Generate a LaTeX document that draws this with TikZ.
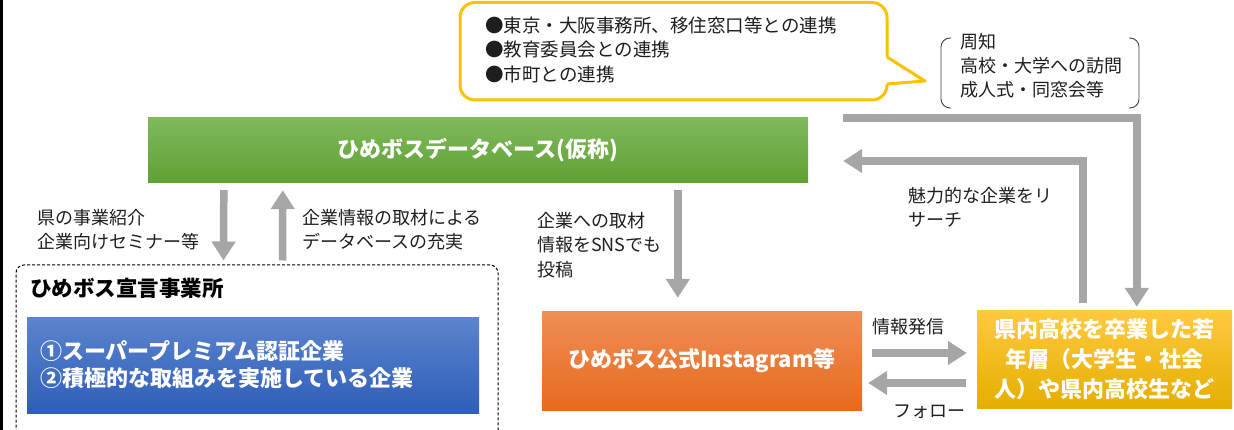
\documentclass[tikz,border=0pt]{standalone}
\usepackage{fontspec}
\setmainfont{Noto Sans CJK JP}
\usetikzlibrary{arrows.meta,calc}
\definecolor{arrgray}{RGB}{166,166,166}
\definecolor{txt}{RGB}{30,30,30}
\definecolor{callgold}{RGB}{255,192,0}
\definecolor{greentop}{RGB}{126,186,92}
\definecolor{greenbot}{RGB}{97,160,52}
\definecolor{bluetop}{RGB}{92,132,206}
\definecolor{bluebot}{RGB}{46,94,184}
\definecolor{orangetop}{RGB}{240,142,86}
\definecolor{orangebot}{RGB}{230,106,30}
\definecolor{yeltop}{RGB}{255,201,64}
\definecolor{yelbot}{RGB}{228,174,0}
\definecolor{brk}{RGB}{64,64,64}
\begin{document}
\begin{tikzpicture}[x=1pt,y=-1pt,
  lbl/.style={anchor=west, inner sep=0pt, align=left, text=txt, font=\fontsize{18}{24.5}\selectfont},
  garrow/.style={draw=arrgray, line width=7.5pt, -{Triangle[width=23pt,length=19pt]}},
  bigbox/.style={draw=none, inner sep=0pt, text=white, align=center, font=\bfseries\fontsize{22}{30}\selectfont},
]
\useasboundingbox (0,0) rectangle (1234,430);
\clip (0,0) rectangle (1234,430);

% left frame line
\draw[line width=3pt, black] (1.5,0) -- (1.5,430);

% callout
\draw[callgold, line width=3pt, fill=white, rounded corners=15pt] (460,2.5) rectangle (887,100);
\fill[white] (884,57) -- (887,57) -- (925,81) -- (887,84) -- (884,84) -- cycle;
\draw[callgold, line width=3pt, line join=round] (887,57) -- (925,81) -- (887,84);
\node[lbl, font=\fontsize{18.5}{24.5}\selectfont] (call) at (485,49.5)
  {●東京・大阪事務所、移住窓口等との連携\\●教育委員会との連携\\●市町との連携};

% bracket note
\draw[brk, line width=0.9pt, rounded corners=9pt] (951,38) -- (941,38) -- (941,108) -- (951,108);
\draw[brk, line width=0.9pt, rounded corners=9pt] (1129,38) -- (1139,38) -- (1139,108) -- (1129,108);
\node[lbl, font=\fontsize{18}{24}\selectfont] (note) at (960,66)
  {周知\\高校・大学への訪問\\成人式・同窓会等};

% database box
\node[bigbox, top color=greentop, bottom color=greenbot, minimum width=660pt, minimum height=65pt]
  (db) at (478,150.5) {ひめボスデータベース(仮称)};

% declaration (dashed) box
\node[draw=black, dash pattern=on 3pt off 2pt, line width=1pt, rounded corners=8pt,
  minimum width=482pt, minimum height=190pt, inner sep=0pt] (decl) at (257,360) {};
\node[anchor=west, inner sep=0pt, text=black, font=\bfseries\fontsize{21.5}{26}\selectfont]
  (decltitle) at (30,288) {ひめボス宣言事業所};
\node[bigbox, top color=bluetop, bottom color=bluebot, minimum width=452pt, minimum height=96pt,
  text width=426pt, align=left, font=\bfseries\fontsize{22}{27}\selectfont]
  (firms) at (253,365) {①スーパープレミアム認証企業\\②積極的な取組みを実施している企業};

% instagram box
\node[bigbox, top color=orangetop, bottom color=orangebot, minimum width=320pt, minimum height=98pt]
  (insta) at (702,361) {ひめボス公式Instagram等};

% target group box
\node[bigbox, top color=yeltop, bottom color=yelbot, minimum width=255pt, minimum height=97pt]
  (ykk) at (1104.5,359.5) {県内高校を卒業した若\\年層（大学生・社会\\人）や県内高校生など};

% arrows
\draw[garrow] ($(db.south west)+(76,7)$) -- ($(decl.north west)+(208,-4)$);
\draw[garrow] ($(decl.north west)+(267,-4)$) -- ($(db.south west)+(135,7)$);
\draw[garrow] ($(db.south west)+(530,7)$) -- ($(insta.north west)+(136,-14)$);
\draw[garrow] ($(db.north east)+(35,0)$) -| ($(ykk.north west)+(160,-4)$);
\draw[garrow] ($(ykk.north west)+(106,-8)$) |- ($(db.east)+(35,10.5)$);
\draw[garrow] ($(insta.east)+(10,-8)$) -- ($(ykk.west)+(-10,-6.5)$);
\draw[garrow] ($(ykk.west)+(-11,23.5)$) -- ($(insta.east)+(6,22)$);

% labels
\node[lbl] (l1) at (37,229.5) {県の事業紹介\\企業向けセミナー等};
\node[lbl] (l2) at (302,229.5) {企業情報の取材による\\データベースの充実};
\node[lbl] (l3) at (537,245) {企業への取材\\情報をSNSでも\\投稿};
\node[lbl] (l4) at (908,207.5) {魅力的な企業をリ\\サーチ};
\node[lbl] (l5) at (872,327) {情報発信};
\node[lbl] (l6) at (893,412) {フォロー};
\end{tikzpicture}
\end{document}
